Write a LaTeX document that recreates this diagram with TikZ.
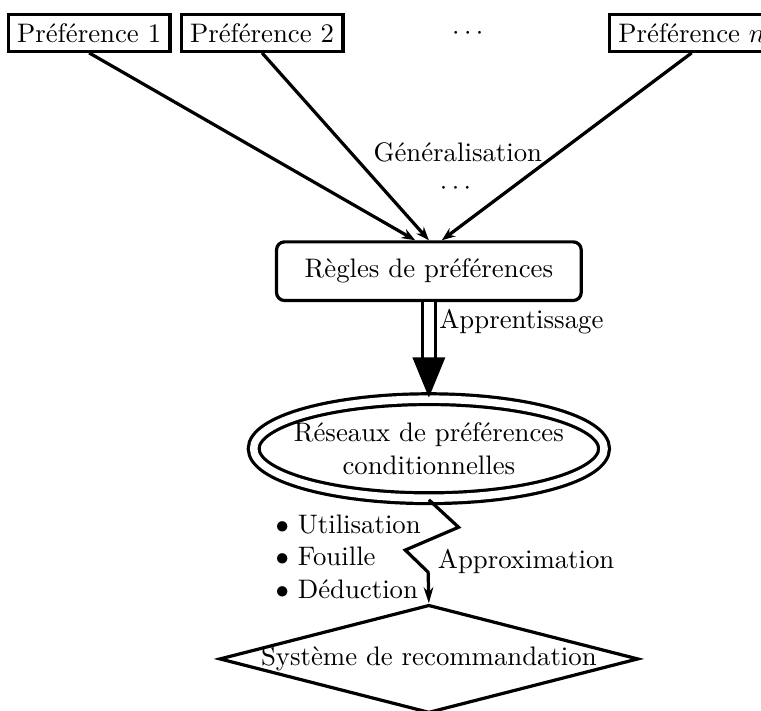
\documentclass[tikz,border=0pt]{standalone}
\usepackage{amsmath}
\usepackage{tikz}
\usetikzlibrary{shapes, arrows.meta, calc}

\begin{document}
\begin{tikzpicture}[
    very thick,
    >={Stealth[length = 5pt, width = 3.8pt]},
    preference/.style = {rectangle,
      draw},
    rules/.style = {rectangle,
      draw,
      rounded corners = 3pt,
      minimum width = 4cm,
      minimum height = 0.77cm},
    network/.style = {ellipse,
      draw,
      double,
      double distance = 2.8pt,
      align = center,
      inner xsep = -6pt,
      inner ysep = 0pt,
      minimum width = 4.6cm,
      minimum height = 1.3cm},
    system/.style = {diamond,
      draw,
      inner xsep = -2cm,
      minimum width = 5.5cm,
      minimum height = 1.42cm}
    ]

    \useasboundingbox (0, 0) rectangle (9.99, -9.33);

    \node at (1.17, -0.43) [preference, name = P1] {Préférence 1};
    \node at (3.44, -0.43) [preference, name = P2] {Préférence 2};
    \node at (6.17, -0.44) [name = Pdots] {$\cdots$};
    \node at (9.08, -0.43) [preference, name = Pn] {Préférence $n$};

    \node at (5.63, -3.56) [rules, name = R] {Règles de préférences};
    \node at (5.63, -5.89) [network, name = E] {Réseaux de préférences\\conditionnelles};
    \node at (5.63, -8.65) [system, name = D] {Système de recommandation};

    \node at (6.01, -2.0) [name = gen] {Généralisation};
    \node at (6.01, -2.47) [name = gendots] {$\cdots$};

    \coordinate (R1) at ($(R.north) + (-0.18, 0)$);
    \coordinate (R3) at ($(R.north) + (0.17, 0)$);

    \draw [->] (P1.south) to (R1);
    \draw [->] (P2.south) to (R.north);
    \draw [->] (Pn.south) to (R3);

    \draw [double, double distance = 3.5pt, -{Triangle[length = 15pt, width = 12pt]}]
      (R.south) to node [right, pos = 0.2] {Apprentissage} (E.north);

    \draw [-{Stealth[length = 6pt, width = 3.6pt]}] (E.south) -- ++(0.39, -0.36)
      -- ++(-0.70, -0.30) -- node [right = 4pt] {Approximation} ++(0.30, -0.29)
      -- (D.north);

    \node at (4.57, -7.31) [align = left, name = B]
      {$\bullet$ Utilisation\\$\bullet$ Fouille\\$\bullet$ Déduction};

  \end{tikzpicture}
\end{document}
